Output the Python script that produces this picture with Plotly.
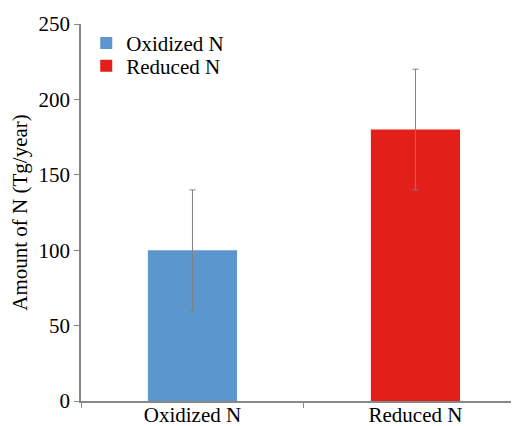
import plotly.graph_objects as go

categories = ["Oxidized N", "Reduced N"]
values = [100, 180]
errors = [40, 40]
colors = ["#5b96cc", "#e31f1a"]

FONT = "Liberation Serif"
legend_ids = ["legend", "legend2"]
legend_y = [0.949, 0.888]

fig = go.Figure()
for cat, val, err, col, lg in zip(categories, values, errors, colors, legend_ids):
    fig.add_trace(go.Bar(
        x=[cat], y=[val], name=cat, legend=lg,
        marker=dict(color=col, line=dict(width=0)),
        width=0.4,
        error_y=dict(type="data", array=[err], color="#808080", thickness=1, width=3),
    ))

leg_common = dict(x=0.012, xanchor="left", yanchor="middle",
                  font=dict(family=FONT, size=21, color="black"),
                  bgcolor="rgba(0,0,0,0)")

fig.update_layout(
    width=519, height=426,
    margin=dict(l=73, r=9, t=16, b=33),
    plot_bgcolor="white", paper_bgcolor="white",
    font=dict(family=FONT, size=21, color="black"),
    showlegend=True,
    legend=dict(y=legend_y[0], **leg_common),
    legend2=dict(y=legend_y[1], **leg_common),
    xaxis=dict(
        range=[-0.5, 1.46], showline=True, linecolor="#888888", linewidth=1.5,
        ticks="outside", tickson="boundaries", ticklen=5, tickcolor="#888888",
        showgrid=False, automargin=False,
        tickfont=dict(family=FONT, size=21, color="black"),
        ticklabelstandoff=-6,
    ),
    yaxis=dict(
        range=[0, 250], tickvals=[0, 50, 100, 150, 200, 250],
        showline=True, linecolor="#888888", linewidth=1.5,
        ticks="outside", ticklen=5, tickcolor="#888888",
        showgrid=False, zeroline=False, automargin=False,
        tickfont=dict(family=FONT, size=21, color="black"),
        title=dict(text="Amount of N (Tg/year)",
                   font=dict(family=FONT, size=21, color="black")),
    ),
)

fig.write_html("out.html")
